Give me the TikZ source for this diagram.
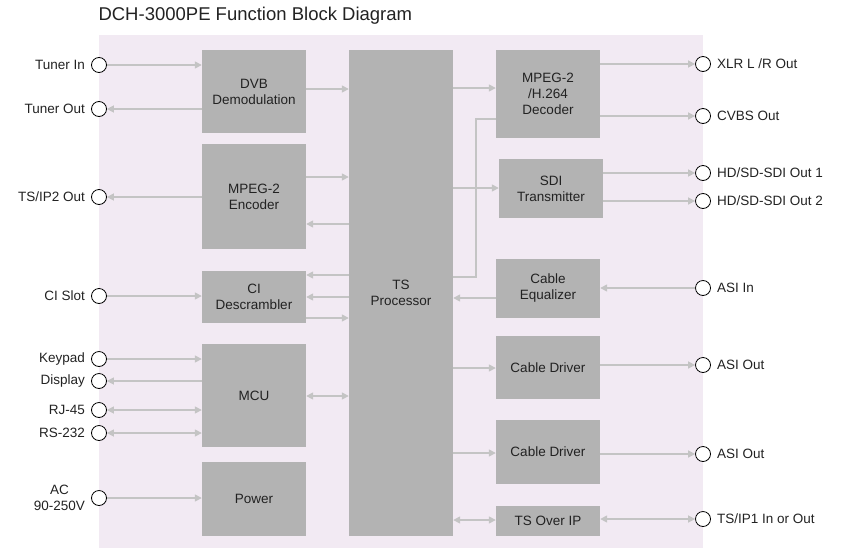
\documentclass[tikz,border=0pt]{standalone}
\usepackage{fontspec}
\setmainfont{Liberation Sans}
\usetikzlibrary{arrows.meta}

\definecolor{bgpink}{HTML}{F2EAF3}
\definecolor{blockgray}{HTML}{B3B3B3}
\definecolor{wiregray}{HTML}{C4C4C4}
\definecolor{textgray}{HTML}{222222}

\tikzset{
  blk/.style={fill=blockgray, align=center, inner sep=0pt, text=textgray,
    font=\fontsize{13.5}{16}\selectfont},
  port/.style={circle, draw=black, fill=white, line width=0.8pt,
    minimum size=15pt, inner sep=0pt},
  lbl/.style={text=textgray, font=\fontsize{13.5}{16}\selectfont, inner sep=6pt},
  sigline/.style={draw=wiregray, line width=1.5pt},
  sig/.style={sigline, -{Triangle[length=7pt,width=7pt]}},
  sigboth/.style={sigline, {Triangle[length=7pt,width=7pt]}-{Triangle[length=7pt,width=7pt]}}
}

\begin{document}
\begin{tikzpicture}[x=1pt,y=-1pt]

\useasboundingbox (0,0) rectangle (850,549);

% Background panel
\fill[bgpink] (99,35) rectangle (703,548);

% Title
\node[anchor=west, text=textgray, font=\fontsize{18.5}{20}\selectfont] (title) at (95,16) {DCH-3000PE Function Block Diagram};

% Left column blocks
\node[blk, minimum width=104, minimum height=83]  (dvb) at (254,91.5)  {DVB\\Demodulation};
\node[blk, minimum width=104, minimum height=105] (enc) at (254,196.5) {MPEG-2\\Encoder};
\node[blk, minimum width=104, minimum height=52]  (ci)  at (254,297)   {CI\\Descrambler};
\node[blk, minimum width=104, minimum height=103] (mcu) at (254,395.5) {MCU};
\node[blk, minimum width=104, minimum height=74]  (pwr) at (254,499)   {Power};

% TS processor
\node[blk, minimum width=104, minimum height=486] (ts) at (401,293) {TS\\Processor};

% Right column blocks
\node[blk, minimum width=104, minimum height=88] (dec)  at (548,94)    {MPEG-2\\/H.264\\Decoder};
\node[blk, minimum width=104, minimum height=59] (sdi)  at (551,188.5) {SDI\\Transmitter};
\node[blk, minimum width=104, minimum height=59] (eq)   at (548,288.5) {Cable\\Equalizer};
\node[blk, minimum width=104, minimum height=63] (drv1) at (548,367.5) {Cable Driver};
\node[blk, minimum width=104, minimum height=64] (drv2) at (548,452)   {Cable Driver};
\node[blk, minimum width=104, minimum height=30] (tsip) at (548,521)   {TS Over IP};

% Left ports
\node[port, label={[lbl]left:Tuner In}]  (tunerin)  at (99,65)  {};
\node[port, label={[lbl]left:Tuner Out}] (tunerout) at (99,109) {};
\node[port, label={[lbl]left:TS/IP2 Out}] (tsiptwo) at (99,197) {};
\node[port, label={[lbl]left:CI Slot}]   (cislot)   at (99,296) {};
\node[port, label={[lbl]left:Keypad}]    (keypad)   at (99,359) {};
\node[port, label={[lbl]left:Display}]   (display)  at (99,381) {};
\node[port, label={[lbl]left:RJ-45}]     (rjport)   at (99,410) {};
\node[port, label={[lbl]left:RS-232}]    (rsport)   at (99,433) {};
\node[port, label={[lbl,align=center]left:AC\\90-250V}] (acin) at (99,498) {};

% Right ports
\node[port, label={[lbl]right:XLR L /R Out}]      (xlr)    at (703,64)  {};
\node[port, label={[lbl]right:CVBS Out}]          (cvbs)   at (703,116) {};
\node[port, label={[lbl]right:HD/SD-SDI Out 1}]   (sdiout1) at (703,173) {};
\node[port, label={[lbl]right:HD/SD-SDI Out 2}]   (sdiout2) at (703,201) {};
\node[port, label={[lbl]right:ASI In}]            (asiin)  at (703,288) {};
\node[port, label={[lbl]right:ASI Out}]           (asiout1) at (703,365) {};
\node[port, label={[lbl]right:ASI Out}]           (asiout2) at (703,454) {};
\node[port, label={[lbl]right:TS/IP1 In or Out}]  (tsipone) at (703,519) {};

% Left side connections
\draw[sig] (tunerin) -- (tunerin -| dvb.west);
\draw[sig] (tunerout -| dvb.west) -- (tunerout);
\draw[sig] (tsiptwo -| enc.west) -- (tsiptwo);
\draw[sig] (cislot) -- (cislot -| ci.west);
\draw[sig] (keypad) -- (keypad -| mcu.west);
\draw[sig] (display -| mcu.west) -- (display);
\draw[sigboth] (rjport) -- (rjport -| mcu.west);
\draw[sigboth] (rsport) -- (rsport -| mcu.west);
\draw[sig] (acin) -- (acin -| pwr.west);

% To and from the TS processor, left
\draw[sig] (dvb.east |- 0,89)  -- (ts.west |- 0,89);
\draw[sig] (enc.east |- 0,177) -- (ts.west |- 0,177);
\draw[sig] (ts.west |- 0,224)  -- (enc.east |- 0,224);
\draw[sig] (ts.west |- 0,275)  -- (ci.east |- 0,275);
\draw[sig] (ts.west |- 0,297)  -- (ci.east |- 0,297);
\draw[sig] (ci.east |- 0,318)  -- (ts.west |- 0,318);
\draw[sigboth] (mcu.east |- 0,396) -- (ts.west |- 0,396);

% To and from the TS processor, right
\draw[sig] (ts.east |- 0,88)  -- (dec.west |- 0,88);
\draw[sig] (ts.east |- 0,188) -- (sdi.west |- 0,188);
\draw[sigline] (ts.east |- 0,277) -- ++(23,0) |- (dec.west |- 0,119);
\draw[sig] (eq.west |- 0,298) -- (ts.east |- 0,298);
\draw[sig] (ts.east |- 0,368) -- (drv1.west |- 0,368);
\draw[sig] (ts.east |- 0,453) -- (drv2.west |- 0,453);
\draw[sigboth] (ts.east |- 0,520) -- (tsip.west |- 0,520);

% Right side connections
\draw[sig] (xlr -| dec.east) -- (xlr);
\draw[sig] (cvbs -| dec.east) -- (cvbs);
\draw[sig] (sdiout1 -| sdi.east) -- (sdiout1);
\draw[sig] (sdiout2 -| sdi.east) -- (sdiout2);
\draw[sig] (asiin) -- (asiin -| eq.east);
\draw[sig] (asiout1 -| drv1.east) -- (asiout1);
\draw[sig] (asiout2 -| drv2.east) -- (asiout2);
\draw[sigboth] (tsip.east |- tsipone) -- (tsipone);

\end{tikzpicture}
\end{document}
